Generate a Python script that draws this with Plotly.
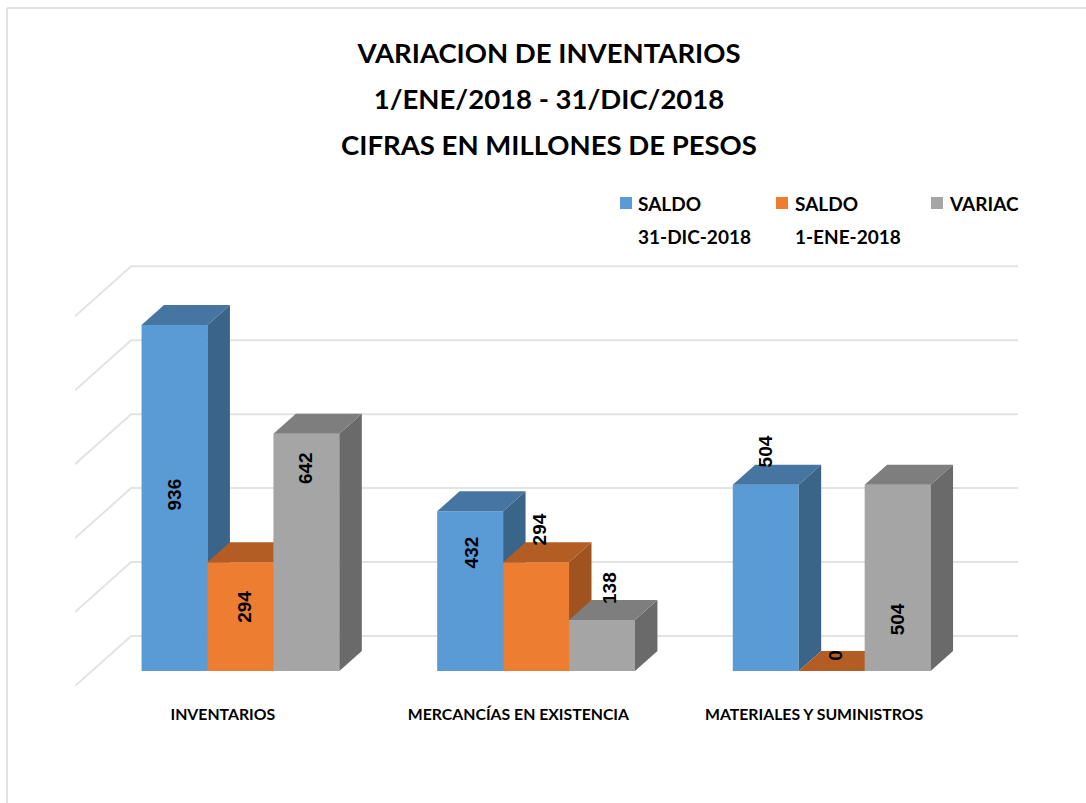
import plotly.graph_objects as go

# ---- data ----
categories = ["INVENTARIOS", "MERCANCÍAS EN EXISTENCIA", "MATERIALES Y SUMINISTROS"]
saldo_2018_dic = [936, 432, 504]
saldo_2018_ene = [294, 294, 0]
variacion = [642, 138, 504]
grid_values = [0, 200, 400, 600, 800, 1000]
title_lines = ["VARIACION DE INVENTARIOS", "1/ENE/2018 - 31/DIC/2018", "CIFRAS EN MILLONES DE PESOS"]
legend_names = ["SALDO<br>31-DIC-2018", "SALDO<br>1-ENE-2018", "VARIAC"]

# ---- style / layout ----
front = ["#5B9BD5", "#ED7D31", "#A5A5A5"]
side = ["#3A6589", "#A0521F", "#6A6A6A"]
top = ["#4575A0", "#B35D25", "#7E7E7E"]
GRID = "#E3E3E3"
FONT = "Lato"
W, H = 1086, 803
L, R, T, B = 75, 68, 256, 117
PX_Y = 0.3697            # pixels per value unit
PX_X = 295.0             # pixels per category
DX = 56 / PX_X           # depth of the box, in category units
DY = 50 / PX_Y           # depth of the box, in value units
D0, D1 = 0.3, 0.7        # bars' position inside the depth
BW = 65.8 / PX_X
BAR_NUDGE = 0.8 / PX_X
X_RANGE = [-0.5, 2.5 + DX]
Y_RANGE = [0, (H - B - T) / PX_Y]

# pixel nudges of the value labels (from the top-centre of each bar front)
label_shift = [
    [(0, -170), (4, -44), (-1, -34)],
    [(1, -41), (3, 33), (8, 32)],
    [(0, 33), (3, 16), (0, -135)],
]

series = [saldo_2018_dic, saldo_2018_ene, variacion]
base = D0 * DY

fig = go.Figure()

# gridlines on the back wall + diagonals along the side wall
gx, gy = [], []
for v in grid_values:
    gx += [X_RANGE[0], X_RANGE[0] + DX, X_RANGE[1], None]
    gy += [v, v + DY, v + DY, None]
fig.add_trace(go.Scatter(x=gx, y=gy, mode="lines", line=dict(color=GRID, width=2),
                         hoverinfo="skip", showlegend=False, xaxis="x", yaxis="y"))

annotations = []
for j, vals in enumerate(series):
    xa, ya = f"x{j + 2}", f"y{j + 2}"
    centers = [i + (j - 1) * BW + D0 * DX + BAR_NUDGE for i in range(len(vals))]
    fig.add_trace(go.Bar(x=centers, y=vals, base=[base] * len(vals), width=BW,
                         marker=dict(color=front[j], line=dict(width=0)),
                         name=legend_names[j].replace("<br>", " "),
                         showlegend=False, xaxis=xa, yaxis=ya))
    sx, sy, tx, ty = [], [], [], []
    ddx, ddy = (D1 - D0) * DX, (D1 - D0) * DY
    for c, v in zip(centers, vals):
        r, l = c + BW / 2, c - BW / 2
        sx += [r, r + ddx, r + ddx, r, r, None]
        sy += [base, base + ddy, base + ddy + v, base + v, base, None]
        tx += [l, l + ddx, r + ddx, r, l, None]
        ty += [base + v, base + v + ddy, base + v + ddy, base + v, base + v, None]
    for px, py, col in ((sx, sy, side[j]), (tx, ty, top[j])):
        fig.add_trace(go.Scatter(x=px, y=py, mode="lines", fill="toself", fillcolor=col,
                                 line=dict(width=0, color=col), hoverinfo="skip",
                                 showlegend=False, xaxis=xa, yaxis=ya))
    for i, (c, v) in enumerate(zip(centers, vals)):
        xs, ys = label_shift[i][j]
        annotations.append(dict(x=c, y=base + v, xref="x", yref="y", text=f"<b>{v}</b>",
                                textangle=-90, showarrow=False, xshift=xs, yshift=ys,
                                font=dict(family="Liberation Sans", size=19, color="#000000")))

# hand-set legend (its two lines are spaced further than a Plotly legend allows)
def xp(px): return (px - L) / (W - L - R)
def yp(py): return (H - B - py) / (H - B - T)

swatch_x = [620, 776, 931]
text_x = [636, 793, 947]
shapes = []
for sx0, tx0, c, name in zip(swatch_x, text_x, front, legend_names):
    shapes.append(dict(type="rect", xref="paper", yref="paper", x0=xp(sx0), x1=xp(sx0 + 12),
                       y0=yp(209), y1=yp(197), fillcolor=c, line=dict(width=0)))
    styled = "<br>".join(f'<span style="font-size:19px">{t}</span>' for t in name.split("<br>"))
    annotations.append(dict(x=xp(tx0), y=yp(189.5), xref="paper", yref="paper", xanchor="left",
                            yanchor="top", align="left", text=f"<b>{styled}</b>", showarrow=False,
                            font=dict(family=FONT, size=25.5, color="#000000")))

# chart frame (left and top edges)
shapes.append(dict(type="line", xref="paper", yref="paper", x0=xp(7), x1=xp(7), y0=yp(8), y1=yp(803),
                   line=dict(color="#E2E2E2", width=2)))
shapes.append(dict(type="line", xref="paper", yref="paper", x0=xp(7), x1=xp(1086), y0=yp(8), y1=yp(8),
                   line=dict(color="#E2E2E2", width=2)))

title_html = "<br>".join(f'<span style="font-size:27.5px">{t}</span>' for t in title_lines)

axis_off = dict(visible=False, fixedrange=True)
fig.update_layout(
    width=W, height=H,
    margin=dict(l=L, r=R, t=T, b=B, pad=0),
    paper_bgcolor="#FFFFFF", plot_bgcolor="rgba(0,0,0,0)",
    showlegend=False,
    title=dict(text=f"<b>{title_html}</b>", x=549 / W, xanchor="center", y=1 - 63 / H, yanchor="top",
               font=dict(family=FONT, size=35.4, color="#000000")),
    xaxis=dict(range=X_RANGE, tickmode="array", tickvals=[0, 1, 2], ticktext=[f"<b>{c}</b>" for c in categories],
               showgrid=False, zeroline=False, showline=False, ticks="outside", ticklen=14,
               tickcolor="rgba(0,0,0,0)", tickfont=dict(family=FONT, size=15.8, color="#000000"),
               tickangle=0, fixedrange=True),
    yaxis=dict(range=Y_RANGE, showgrid=False, zeroline=False, showticklabels=False, fixedrange=True),
    xaxis2=dict(overlaying="x", range=X_RANGE, **axis_off),
    yaxis2=dict(overlaying="y", range=Y_RANGE, **axis_off),
    xaxis3=dict(overlaying="x", range=X_RANGE, **axis_off),
    yaxis3=dict(overlaying="y", range=Y_RANGE, **axis_off),
    xaxis4=dict(overlaying="x", range=X_RANGE, **axis_off),
    yaxis4=dict(overlaying="y", range=Y_RANGE, **axis_off),
    annotations=annotations,
    shapes=shapes,
)
fig.write_html("out.html", config=dict(displayModeBar=False),
               post_script="document.body.style.margin='0';")
